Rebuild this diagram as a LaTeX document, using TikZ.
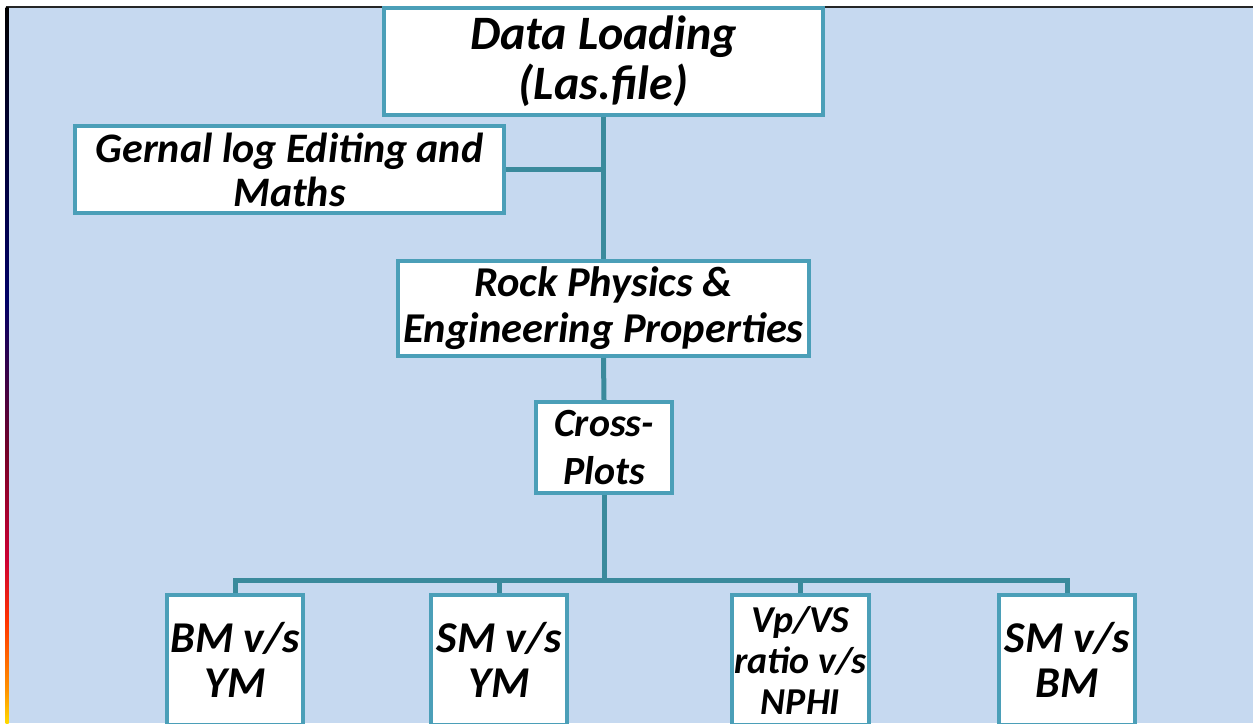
\documentclass[tikz,border=0pt]{standalone}
\usepackage{fontspec}
\setmainfont{Carlito}
\definecolor{pagebg}{HTML}{C6D9F0}
\definecolor{boxedge}{HTML}{4B9FB8}
\definecolor{linkcol}{HTML}{3A8A9C}
\pgfdeclarelayer{paper}
\pgfdeclarelayer{links}
\pgfsetlayers{paper,links,main}
\pgfdeclareverticalshading{edgeband}{100bp}{%
  color(0bp)=(orange!30!yellow);
  color(25bp)=(orange!30!yellow);
  color(27.3bp)=(orange!85!yellow);
  color(32.2bp)=(red!60!orange);
  color(36.4bp)=(purple!80!red);
  color(44bp)=(purple!60!black);
  color(54.5bp)=(blue!40!black);
  color(68.5bp)=(blue!15!black);
  color(75bp)=(black);
  color(100bp)=(black)}
\tikzset{
  stage/.style={draw=boxedge, line width=4pt, fill=white, inner sep=0pt,
    align=center},
  link/.style={draw=linkcol, line width=5pt}
}
\newcommand\stagefont[2]{\fontsize{#1}{#2}\selectfont\bfseries\itshape}
\begin{document}
\begin{tikzpicture}[x=1pt, y=-1pt]
\useasboundingbox (0,0) rectangle (1253,723);
\clip (0,0) rectangle (1253,723);
% page background and frame
\begin{pgfonlayer}{paper}
\fill[pagebg] (7,7) rectangle (1253,723);
\draw[line width=2pt, black!85] (5.5,7) -- (1253,7);
\shade[shading=edgeband] (5.5,7) rectangle (8.5,723);
\end{pgfonlayer}

% boxes
\node[stage, minimum width=439pt, minimum height=107pt, font=\stagefont{48}{50}]
  (dl) at (603.5,61.5) {Data Loading\\(Las.file)};
\node[stage, minimum width=429pt, minimum height=87pt, font=\stagefont{42}{44}]
  (gl) at (289.5,169.5) {Gernal log Editing and\\Maths};
\node[stage, minimum width=411pt, minimum height=95pt, font=\stagefont{42.5}{46}]
  (rp) at (603.5,308.5) {Rock Physics \&\\Engineering Properties};
\node[stage, minimum width=136pt, minimum height=91pt, font=\stagefont{40}{48}]
  (cp) at (604,447.5) {Cross-\\Plots};
\node[stage, minimum width=136pt, minimum height=130pt, font=\stagefont{44}{45}]
  (bm) at (235,660) {BM v/s\\YM};
\node[stage, minimum width=136pt, minimum height=130pt, font=\stagefont{44}{45}]
  (sy) at (499,660) {SM v/s\\YM};
\node[stage, minimum width=137pt, minimum height=130pt, font=\stagefont{38}{41}]
  (vp) at (800.5,660) {Vp/VS\\ratio v/s\\NPHI};
\node[stage, minimum width=136pt, minimum height=130pt, font=\stagefont{44}{45}]
  (sb) at (1067,660) {SM v/s\\BM};

% connectors, kept underneath the boxes
\coordinate (bar) at (604,580);
\begin{pgfonlayer}{links}
\path[link] (dl.south) -- (rp.north);
\path[link] (gl.east) -- (gl.east -| dl.south);
\path[link] (rp.south) -- (cp.north);
\path[link] (cp.south) -- (bar);
\path[link] (bar) -| (bm.north);
\path[link] (bar) -| (sy.north);
\path[link] (bar) -| (vp.north);
\path[link] (bar) -| (sb.north);
\end{pgfonlayer}
\end{tikzpicture}
\end{document}
